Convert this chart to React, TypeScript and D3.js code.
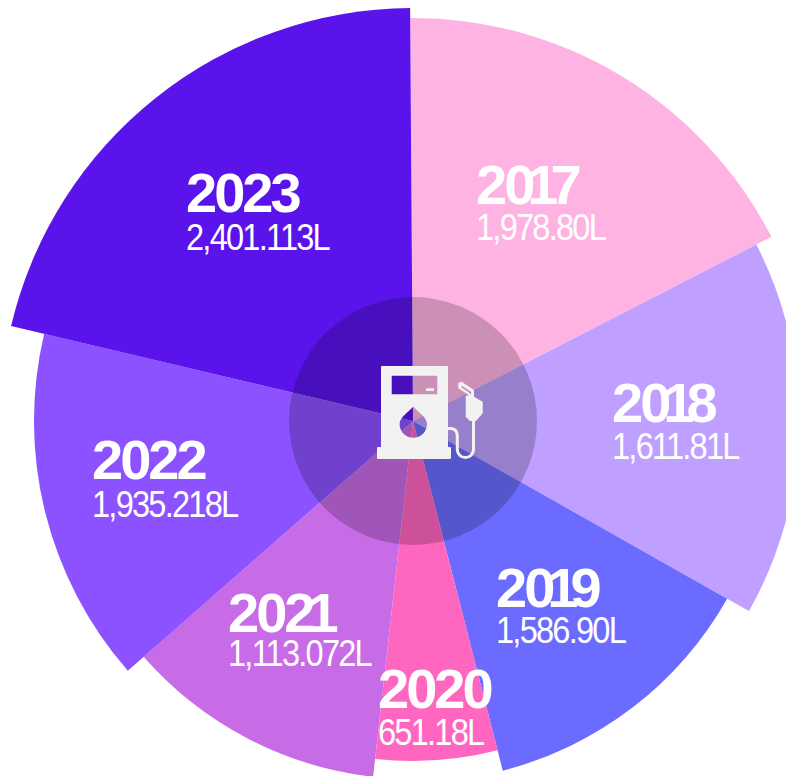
import * as d3 from 'd3';

const years = ['2017', '2018', '2019', '2020', '2021', '2022', '2023'];
const volumes = ['1,978.80L', '1,611.81L', '1,586.90L', '651.18L', '1,113.072L', '1,935.218L', '2,401.113L'];
// angular span (degrees) and outer reach of each slice
const spans = [63.2, 56.7, 46.1, 20.8, 42.4, 54.5, 76.3];
const reach = [403, 386, 361, 340, 358, 379, 413];
const colors = ['#ffb3e3', '#bf9fff', '#6b6bff', '#ff66bf', '#c76ce6', '#8c52ff', '#5a14eb'];

const width = 786;
const height = 776;
const cx = 413;
const cy = 421;
const labelSpots = [
  { x: 476, y: 204, vy: 240 },
  { x: 612, y: 422, vy: 459 },
  { x: 496, y: 607, vy: 643 },
  { x: 378, y: 708, vy: 745 },
  { x: 228, y: 632, vy: 666 },
  { x: 92, y: 479, vy: 517 },
  { x: 186, y: 212, vy: 250 },
];

const startAngle = (-0.4 * Math.PI) / 180;
const pie = d3.pie<number>().sort(null).startAngle(startAngle).endAngle(startAngle + 2 * Math.PI);
const arcs = pie(spans);

// fuel pump, drawn in page pixels; evenodd leaves the window and drop see-through
const pumpBody =
  'M382 366H447Q448 366 448 367V447H450Q451 447 451 448V458Q451 459 450 459H378Q377 459 377 458V448Q377 447 378 447H381V367Q381 366 382 366Z' +
  'M391.7 375.7V394.3H437.3V375.7Z' +
  'M413.3 406.5C409 412 399.6 417 399.6 424A13.7 13.7 0 0 0 427 424C427 417 417.6 412 413.3 406.5Z';
const pumpDash = 'M427 388.3H433A1.3 1.3 0 0 1 433 391H427A1.3 1.3 0 0 1 427 388.3Z';
const hose = 'M448 428.5H451Q457.3 429 457.3 436V449.5A8 8 0 0 0 473.5 449.5V418';
const nozzle =
  'M458.3 382.7L461.7 381.7L474 390V396.7L482.7 401.7V413.3L476 421H470L465.7 416.7V396L468.7 395L458.3 388.3Z' +
  'M461.5 385.5L471 391.8V394L461.5 387.6Z';

// the reference sets its "1" tighter than Liberation does
function yearOffsets(year: string) {
  return year
    .split('')
    .map((ch, i) => (ch === '1' ? -5 : 0) + (year[i - 1] === '1' ? -5 : 0))
    .join(' ');
}

export default function App() {
  const arc = d3.arc<d3.PieArcDatum<number>>().innerRadius(0);
  return (
    <svg
      width={width}
      height={height}
      style={{ position: 'absolute', left: 0, top: 0 }}
      fontFamily="'Liberation Sans', Arial, sans-serif"
    >
      <g transform={`translate(${cx},${cy})`}>
        {arcs.map((d, i) => (
          <path key={years[i]} d={arc({ ...d, outerRadius: reach[i] } as any) as string} fill={colors[i]} />
        ))}
        <circle r={124} fill="#000" fillOpacity={0.2} />
      </g>
      <path d={pumpBody} fill="#f2f2f2" fillRule="evenodd" />
      <path d={pumpDash} fill="#f2f2f2" />
      <path d={hose} fill="none" stroke="#f2f2f2" strokeWidth={3} />
      <path d={nozzle} fill="#f2f2f2" fillRule="evenodd" />
      {years.map((year, i) => (
        <g key={year} fill="#fff">
          <text
            x={labelSpots[i].x}
            y={labelSpots[i].y}
            dx={yearOffsets(year)}
            fontSize={56}
            fontWeight={700}
            letterSpacing={-3}
          >
            {year}
          </text>
          <text
            transform={`translate(${labelSpots[i].x},${labelSpots[i].vy}) scale(0.88,1)`}
            fontSize={37}
            letterSpacing={-2}
          >
            {volumes[i]}
          </text>
        </g>
      ))}
    </svg>
  );
}
